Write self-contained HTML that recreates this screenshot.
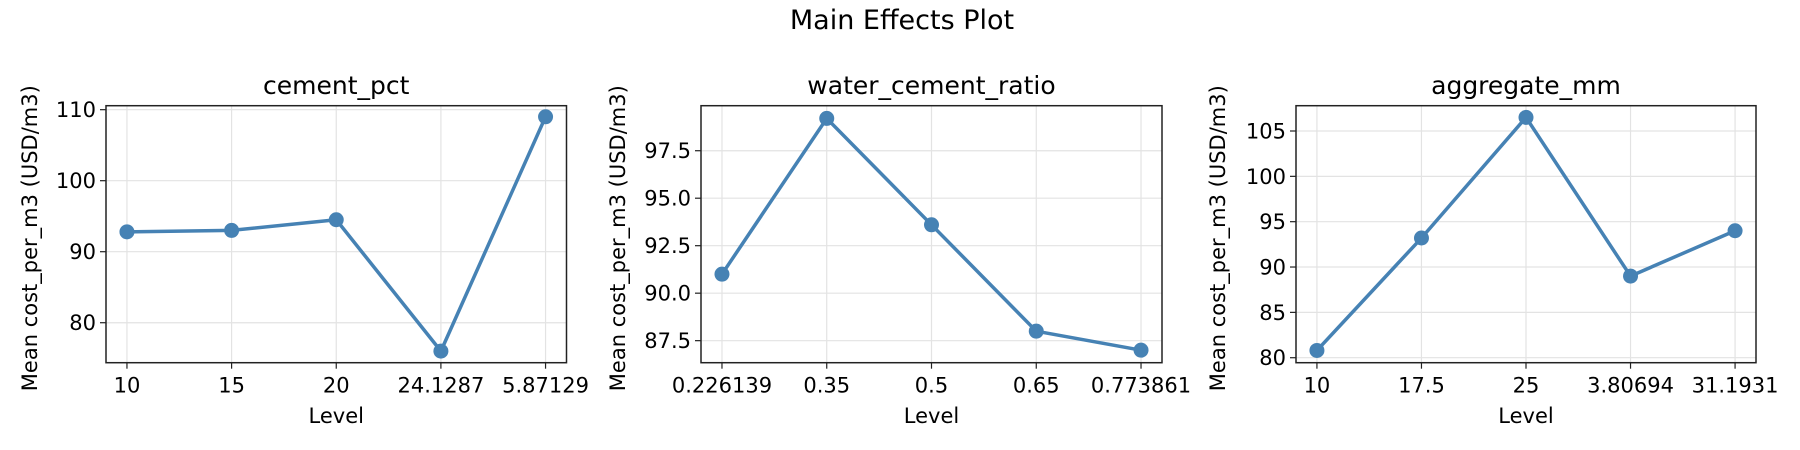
<!DOCTYPE html>
<html><head><meta charset="utf-8"><style>
html,body{margin:0;padding:0;background:#fff;}
svg{display:block;font-family:"DejaVu Sans","Liberation Sans",sans-serif;}
</style></head><body>
<svg id="chart" width="1800" height="450" viewBox="0 0 1800 450" xmlns="http://www.w3.org/2000/svg">
<text x="902" y="29" font-size="27" text-anchor="middle" fill="#000">Main Effects Plot</text>
</svg>
<script>
const titles = ["cement_pct", "water_cement_ratio", "aggregate_mm"];
const cementLevels = ["10", "15", "20", "24.1287", "5.87129"];
const cementMeans = [92.8, 93.0, 94.5, 76.0, 109.0];
const wcrLevels = ["0.226139", "0.35", "0.5", "0.65", "0.773861"];
const wcrMeans = [91.0, 99.2, 93.6, 88.0, 87.0];
const aggLevels = ["10", "17.5", "25", "3.80694", "31.1931"];
const aggMeans = [80.8, 93.2, 106.5, 89.0, 94.0];
const cementTicks = [80, 90, 100, 110];
const wcrTicks = [87.5, 90.0, 92.5, 95.0, 97.5];
const aggTicks = [80, 85, 90, 95, 100, 105];

const NS = "http://www.w3.org/2000/svg";
const svgEl = document.getElementById("chart");
function mk(tag, attrs, parent) {
  const e = document.createElementNS(NS, tag);
  for (const k in attrs) e.setAttribute(k, attrs[k]);
  (parent || svgEl).appendChild(e);
  return e;
}
const panels = [
  {title: titles[0], levels: cementLevels, means: cementMeans, ticks: cementTicks, dec: 0, left: 106, right: 566.5, ymin: 74.37, ymax: 110.56, ylx: 29},
  {title: titles[1], levels: wcrLevels, means: wcrMeans, ticks: wcrTicks, dec: 1, left: 701, right: 1162, ymin: 86.34, ymax: 99.87, ylx: 617},
  {title: titles[2], levels: aggLevels, means: aggMeans, ticks: aggTicks, dec: 0, left: 1296, right: 1756, ymin: 79.45, ymax: 107.79, ylx: 1217}
];
const axTop = 105.7, axBottom = 362.7;
panels.forEach((p, i) => {
  const g = mk("g", {});
  
  
  const w = p.right - p.left;
  const n = p.levels.length;
  const x0 = p.left + w * 0.0455, x1 = p.right - w * 0.0455;
  const xs = k => x0 + (x1 - x0) * k / (n - 1);
  const ys = v => axBottom - (v - p.ymin) / (p.ymax - p.ymin) * (axBottom - axTop);
  p.levels.forEach((l, k) => {
    const gl = mk("line", {x1: xs(k), x2: xs(k), y1: axTop, y2: axBottom, stroke: "#e3e3e3", "stroke-width": 1.2}, g);
    
    
  });
  p.ticks.forEach(t => {
    const gl = mk("line", {x1: p.left, x2: p.right, y1: ys(t), y2: ys(t), stroke: "#e3e3e3", "stroke-width": 1.2}, g);
    
    
  });
  const pts = p.means.map((v, k) => xs(k) + "," + ys(v)).join(" ");
  const pl = mk("polyline", {points: pts, fill: "none", stroke: "#4682b4", "stroke-width": 3.5, "stroke-linejoin": "round"}, g);
  
  
  p.means.forEach((v, k) => {
    const c = mk("circle", {cx: xs(k), cy: ys(v), r: 7.5, fill: "#4682b4"}, g);
    
    
  });
  const fr = mk("rect", {x: p.left, y: axTop, width: w, height: axBottom - axTop, fill: "none", stroke: "#222", "stroke-width": 1.5}, g);
  
  
  p.levels.forEach((l, k) => {
    const tk = mk("line", {x1: xs(k), x2: xs(k), y1: axBottom, y2: axBottom + 6, stroke: "#222", "stroke-width": 1.2}, g);
    
    
    const t = mk("text", {x: xs(k), y: axBottom + 30, "font-size": 21, "text-anchor": "middle", fill: "#000"}, g);
    t.textContent = l;
    
    
  });
  p.ticks.forEach(v => {
    const tk = mk("line", {x1: p.left - 6, x2: p.left, y1: ys(v), y2: ys(v), stroke: "#222", "stroke-width": 1.2}, g);
    
    
    const t = mk("text", {x: p.left - 10, y: ys(v) + 7.5, "font-size": 21, "text-anchor": "end", fill: "#000"}, g);
    t.textContent = v.toFixed(p.dec);
    
    
  });
  const tt = mk("text", {x: (p.left + p.right) / 2, y: 94, "font-size": 25, "text-anchor": "middle", fill: "#000"}, g);
  tt.textContent = p.title;
  
  
  const xl = mk("text", {x: (p.left + p.right) / 2, y: 423, "font-size": 21, "text-anchor": "middle", fill: "#000"}, g);
  xl.textContent = "Level";
  
  
  const yc = (axTop + axBottom) / 2 + 4;
  const yl = mk("text", {x: p.ylx + 8, y: yc, "font-size": 21, "text-anchor": "middle", fill: "#000", transform: "rotate(-90 " + (p.ylx + 8) + " " + yc + ")"}, g);
  yl.textContent = "Mean cost_per_m3 (USD/m3)";
  
  
});
</script>
</body></html>
